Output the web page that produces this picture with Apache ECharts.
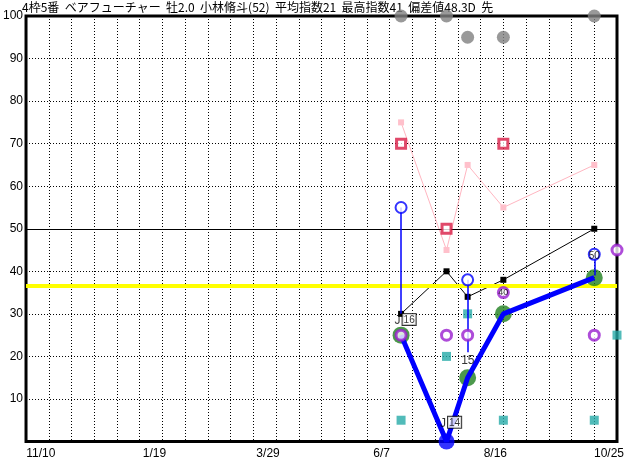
<!DOCTYPE html>
<html><head><meta charset="utf-8">
<script src="https://cdn.jsdelivr.net/npm/echarts@6/dist/echarts.min.js"></script>
<style>html,body{margin:0;padding:0;background:#fff}#c{width:632px;height:460px}</style>
</head><body><div id="c"></div>
<script>
// ---- data ----
const titleText = '4枠5番  ベアフューチャー  牡2.0  小林脩斗(52)  平均指数21  最高指数41  偏差値48.3D  先';
const originDate = '2023-10-27';
const xTickDates = ['2023-11-10','2024-01-19','2024-03-29','2024-06-07','2024-08-16','2024-10-25'];
const raceDates = ['2024-06-14','2024-07-12','2024-07-25','2024-08-16','2024-10-11'];
const nextDate = '2024-10-25';
const grayVals = [100, 100, 95, 95, 100];
const pinkVals = [75, 45, 65, 55, 65];
const crimsonVals = [70, 50, null, 70, null];
const blackVals = [30, 40, 34, 38, 50];
const blueRingVals = [55, null, 38, null, 44];
const blueRingEnds = [30, null, 21, null, 39];
const blueRingText = ['', '', '', '', '50'];
const purpleVals = [25, 25, 25, 35, 25, 45]; // last = next race
const purpleText = ['', '', '', '40', '', ''];
const tealVals = [5, 20, 30, 5, 5, 25];       // last = next race
const greenVals = [25, null, 15, 30, 38.5];
const indexVals = [25, 0, 15, 30, 38.5];
const tagRace = [0, 1, 2];
const tagPrefix = ['J', 'J', ''];
const tagNum = ['16', '14', '15'];
const tagBoxed = [true, true, false];
const tagY = [28.7, 4.5, 19];
const avgLevel = 36.6;
const baseLevel = 50;

// ---- helpers ----
const DAY = 864e5;
const t0 = Date.parse(originDate + 'T00:00:00Z');
const dayOf = s => Math.round((Date.parse(s + 'T00:00:00Z') - t0) / DAY);
const raceX = raceDates.map(dayOf);
const allX = raceX.concat([dayOf(nextDate)]);
const pts = (xs, vals) => vals.map((v, i) => v == null ? null : [xs[i], v]).filter(p => p);
const fmtDay = v => { const d = new Date(t0 + v * DAY); return (d.getUTCMonth() + 1) + '/' + d.getUTCDate(); };

const FONT = '"Liberation Sans", "Noto Sans CJK JP", sans-serif';
const chart = echarts.init(document.getElementById('c'), null, {renderer: 'canvas'});
const option = {
  animation: false,
  backgroundColor: '#fff',
  title: {
    text: titleText, left: 22, top: 1, z: 0, padding: 0,
    textStyle: {fontSize: 12, fontWeight: 'normal', color: '#000', fontFamily: '"Noto Sans CJK JP", sans-serif', lineHeight: 13}
  },
  grid: {left: 25, right: 15, top: 16, bottom: 18.5, show: true, borderColor: '#000', borderWidth: 3, backgroundColor: '#fff'},
  xAxis: {
    type: 'value', min: 0, max: 364, interval: 14,
    axisLine: {show: false}, axisTick: {show: false},
    splitLine: {show: true, lineStyle: {color: '#000', width: 1, type: [1, 2]}},
    axisLabel: {
      customValues: xTickDates.map(dayOf),
      formatter: fmtDay, color: '#000', fontSize: 12, fontFamily: FONT, margin: 6,
      padding: [0, 16, 0, 0]
    }
  },
  yAxis: {
    type: 'value', min: 0, max: 100, interval: 10,
    axisLine: {show: false}, axisTick: {show: false},
    splitLine: {show: true, lineStyle: {color: '#000', width: 1, type: [1, 2]}},
    axisLabel: {color: '#000', fontSize: 12, fontFamily: FONT, margin: 3, formatter: v => v === 0 ? '' : String(v)}
  },
  series: [
    {
      type: 'line', data: [], z: 1, silent: true,
      markLine: {
        silent: true, symbol: 'none', label: {show: false}, animation: false,
        data: [
          {yAxis: avgLevel, lineStyle: {color: '#ffff00', width: 4, type: 'solid'}},
          {yAxis: baseLevel, lineStyle: {color: '#000', width: 1, type: 'solid'}}
        ]
      }
    },
    { // pink line
      type: 'line', data: pts(raceX, pinkVals), z: 3, clip: false,
      symbol: 'rect', symbolSize: 6, showAllSymbol: true,
      lineStyle: {color: '#ffb6c1', width: 1}, itemStyle: {color: '#ffc0cb'}
    },
    { // black line
      type: 'line', data: pts(raceX, blackVals), z: 4, clip: false,
      symbol: 'rect', symbolSize: 6, showAllSymbol: true,
      lineStyle: {color: '#000', width: 1}, itemStyle: {color: '#000'}
    },
    { // gray dots
      type: 'scatter', data: pts(raceX, grayVals), z: 5, clip: false,
      symbol: 'circle', symbolSize: 13, itemStyle: {color: '#808080'}
    },
    { // crimson squares
      type: 'scatter', data: pts(raceX, crimsonVals), z: 5, clip: false,
      symbol: 'rect', symbolSize: 9, itemStyle: {color: '#fff', borderColor: '#d81b45', borderWidth: 3}
    },
    { // teal squares
      type: 'scatter', data: pts(allX, tealVals), z: 5, clip: false,
      symbol: 'rect', symbolSize: 9, itemStyle: {color: '#26aaa8'}
    },
    { // green dots
      type: 'scatter', data: pts(raceX, greenVals), z: 6, clip: false,
      symbol: 'circle', symbolSize: 17, itemStyle: {color: '#1f801f'}
    },
    { // blue index line
      type: 'line', data: pts(raceX, indexVals), z: 7, clip: false,
      symbol: 'none', lineStyle: {color: '#0000ff', width: 5}
    },
    { // blue bottom dot (zero)
      type: 'scatter', data: pts(raceX, indexVals.map(v => v === 0 ? v : null)), z: 7, clip: false,
      symbol: 'circle', symbolSize: 16, itemStyle: {color: '#0000ff'}
    },
    { // blue vertical stems
      type: 'lines', coordinateSystem: 'cartesian2d', z: 8, silent: true,
      data: blueRingVals.map((v, i) => v == null ? null : {coords: [[raceX[i], v], [raceX[i], blueRingEnds[i]]]}).filter(d => d),
      lineStyle: {color: '#0000ff', width: 1.5, opacity: 1}
    },
    { // purple rings
      type: 'scatter', z: 9, clip: false,
      data: purpleVals.map((v, i) => ({value: [allX[i], v], name: purpleText[i]})),
      symbol: 'circle', symbolSize: 10, itemStyle: {color: '#fff', borderColor: '#9a1fd0', borderWidth: 3},
      label: {show: true, position: 'inside', formatter: p => p.name, fontSize: 9, color: '#000', fontFamily: FONT}
    },
    { // blue rings
      type: 'scatter', z: 10, clip: false,
      data: blueRingVals.map((v, i) => v == null ? null : {value: [raceX[i], v], name: blueRingText[i]}).filter(d => d),
      symbol: 'circle', symbolSize: 11, itemStyle: {color: '#fff', borderColor: '#0000ff', borderWidth: 2},
      label: {show: true, position: 'inside', formatter: p => p.name, fontSize: 10, color: '#000', fontFamily: FONT, offset: [0, 2]}
    },
    { // tags
      type: 'scatter', z: 11, clip: false, symbol: 'circle', symbolSize: 1,
      itemStyle: {color: 'rgba(0,0,0,0)'},
      data: tagRace.map((r, i) => ({value: [raceX[r], tagY[i]], name: String(i)})),
      label: {
        show: true, position: 'right', distance: 0, color: '#000', offset: [-7, 0],
        formatter: p => { const i = +p.name; return (tagPrefix[i] ? '{pre|' + tagPrefix[i] + '}' : '') + (tagBoxed[i] ? '{box|' + tagNum[i] + '}' : '{num|' + tagNum[i] + '}'); },
        rich: {
          pre: {fontSize: 12, color: '#000', fontFamily: FONT, textBorderWidth: 0, padding: [3, 2, 0, 0]},
          box: {fontSize: 10, color: '#000', fontFamily: FONT, borderColor: '#000', borderWidth: 1, backgroundColor: '#fff', padding: [1, 1, 0, 1]},
          num: {fontSize: 12, color: '#000', fontFamily: FONT}
        }
      }
    }
  ]
};
chart.setOption(option);
</script></body></html>
